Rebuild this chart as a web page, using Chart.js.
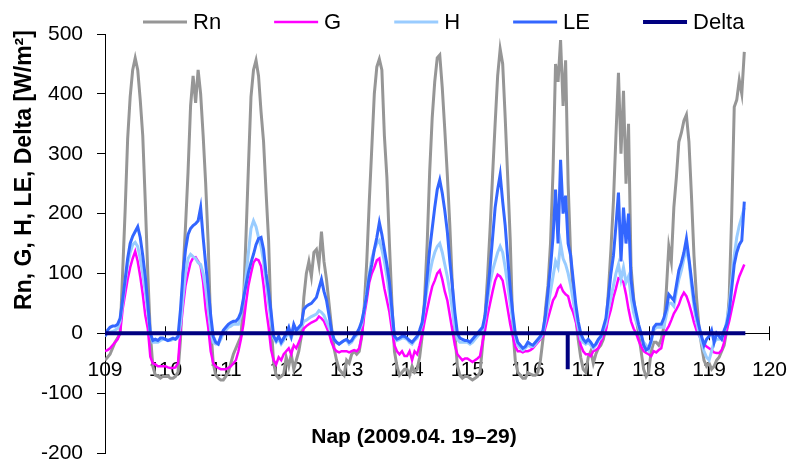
<!DOCTYPE html>
<html>
<head>
<meta charset="utf-8">
<script src="https://cdn.jsdelivr.net/npm/chart.js@4.4.1/dist/chart.umd.min.js"></script>
<style>
  html, body { margin: 0; padding: 0; background: #fff; }
</style>
</head>
<body>
<canvas id="flux-chart" width="803" height="462"></canvas>
<script>
// hourly values, first point at day 109.0
var startDay = 109;
var stepsPerDay = 24;

var rn = [
  -45, -40, -35, -25, -15, -8, 0, 100, 205, 325, 395, 440, 460, 440, 390, 330, 220, 100, 0, -55, -70, -72, -75, -72,
  -72, -72, -75, -75, -72, -65, -10, 100, 180, 270, 380, 430, 385, 440, 400, 330, 250, 150, 10, -50, -70, -75, -78, -78,
  -72, -65, -50, -35, -25, -15, -5, 50, 160, 280, 395, 440, 456, 430, 370, 320, 235, 155, 17, -50, -70, -75, -72, -68,
  -40, -55, -35, -60, -45, -30, -5, 60, 100, 120, 95, 135, 140, 115, 170, 120, 90, 50, 10, -25, -45, -60, -65, -70,
  -45, -50, -35, -30, -35, -30, -5, 45, 120, 220, 310, 400, 445, 458, 440, 330, 260, 150, 50, -30, -55, -70, -65, -60,
  -60, -70, -55, -65, -60, -40, -5, 60, 150, 270, 360, 420, 460, 465, 410, 340, 265, 180, 80, 0, -55, -70, -75, -72,
  -72, -75, -78, -75, -72, -65, -20, 30, 95, 175, 265, 350, 430, 475, 450, 360, 260, 156, 10, -45, -65, -70, -75, -75,
  -66, -68, -70, -70, -65, -45, -10, 40, 80, 150, 270, 450, 420, 490, 380, 456, 250, 130, 67, 30, -10, -40, -60, -65,
  -40, -30, -50, -35, -25, -20, -10, 10, 70, 140, 220, 330, 435, 300, 405, 250, 350, 110, 60, 25, 0, -30, -60, -72,
  -65, -30, -15, -15, -20, -10, 10, 70, 145, 120, 210, 260, 320, 335, 355, 365, 320, 230, 130, 60, 10, -20, -45, -55,
  -50, -60, -55, -45, -40, -30, -20, 5, 60, 200, 378, 390, 423, 400, 470
];

var g = [
  -30, -28, -25, -20, -15, -10, 0, 40, 65, 90, 110, 125, 137, 120, 95, 65, 30, 8, -39, -50, -52, -55, -55, -55,
  -55, -57, -58, -58, -57, -50, 5, 45, 80, 100, 118, 126, 127, 120, 112, 85, 40, 10, -30, -50, -55, -58, -60, -60,
  -60, -58, -55, -50, -45, -30, -10, 15, 50, 80, 100, 118, 124, 122, 112, 80, 40, 10, -28, -45, -52, -40, -45, -35,
  -30, -25, -35, -20, -25, -15, -5, 8, 12, 15, 18, 20, 22, 28, 25, 20, 10, 0, -15, -25, -30, -32, -30, -30,
  -30, -32, -30, -28, -30, -25, -5, 30, 55, 85, 100, 110, 122, 125, 100, 75, 55, 35, 5, -20, -30, -35, -30, -38,
  -38, -30, -45, -30, -35, -20, -2, 20, 40, 60, 78, 88, 100, 105, 90, 70, 55, 30, 5, -20, -35, -40, -45, -42,
  -42, -45, -48, -45, -42, -38, -15, 5, 30, 50, 70, 88, 98, 95, 88, 65, 40, 15, -5, -22, -30, -30, -32, -30,
  -30, -28, -25, -20, -15, -10, -5, 10, 25, 40, 55, 62, 75, 80, 70, 65, 62, 45, 35, 20, 0, -20, -30, -35,
  -35, -38, -30, -28, -25, -15, -5, 5, 25, 40, 60, 75, 92, 90, 85, 65, 40, 20, 8, 0, -12, -22, -30, -33,
  -35, -38, -30, -32, -28, -25, -5, 5, 12, 22, 33, 40, 48, 60, 68, 62, 50, 35, 18, 5, -3, -12, -18, -22,
  -25, -28, -32, -33, -33, -28, -15, 5, 20, 40, 60, 80, 95, 105, 115
];

var h = [
  -5, 0, 2, 3, 5, 8, 20, 50, 85, 115, 135, 148, 152, 145, 125, 100, 70, 35, 0, -15, -15, -15, -12, -10,
  -10, -12, -12, -10, -10, -8, 15, 60, 100, 125, 132, 128, 125, 118, 115, 100, 75, 40, 5, -15, -18, -18, -10, 0,
  5, 10, 12, 15, 15, 15, 30, 55, 95, 135, 175, 188, 178, 160, 145, 120, 85, 50, 20, -8, -15, -10, -18, -12,
  -5, 0, -8, 5, 0, 5, 10, 20, 22, 25, 28, 30, 32, 38, 35, 30, 20, 10, 0, -10, -15, -18, -15, -12,
  -12, -18, -15, -8, -3, 5, 15, 40, 70, 100, 125, 140, 150, 155, 140, 120, 95, 65, 25, -5, -12, -10, -8, -8,
  -10, -15, -18, -12, -8, 2, 15, 45, 75, 100, 120, 135, 145, 150, 135, 115, 95, 70, 40, 10, -10, -15, -15, -15,
  -15, -18, -15, -10, -5, 0, 5, 25, 55, 85, 105, 120, 135, 145, 135, 110, 80, 50, 20, -5, -20, -25, -28, -25,
  -20, -22, -22, -18, -12, -8, 0, 20, 45, 70, 95, 120, 110, 150, 125, 115, 100, 80, 55, 30, 10, -10, -15, -18,
  -15, -20, -25, -20, -12, -8, 5, 15, 40, 60, 80, 100, 115, 90, 110, 85, 95, 60, 35, 20, 10, -5, -15, -20,
  -28, -15, 5, 10, 10, 10, 10, 30, 50, 50, 45, 70, 90, 105, 125, 140, 120, 80, 45, 20, 0, -15, -30, -40,
  -45, -30, -15, -10, -10, -5, 0, 20, 45, 90, 130, 160, 180, 195, 210
];

var le = [
  -5, 5, 10, 12, 12, 15, 25, 56, 90, 125, 150, 162, 170, 178, 160, 130, 95, 50, 0, -12, -10, -12, -8, -8,
  -10, -12, -10, -8, -10, -5, 40, 100, 140, 165, 175, 180, 183, 188, 210, 160, 115, 75, 30, -5, -15, -18, -5, 5,
  10, 15, 18, 20, 20, 25, 35, 58, 80, 102, 118, 132, 148, 158, 160, 140, 100, 70, 35, -5, -12, -5, -15, -8,
  0, 10, -5, 15, 5, 10, 15, 40, 45, 48, 50, 55, 60, 75, 90, 70, 55, 30, 5, -10, -15, -18, -15, -12,
  -10, -15, -12, -5, 0, 8, 20, 40, 65, 95, 115, 140, 160, 185, 165, 140, 115, 85, 40, -5, -10, -8, -5, -5,
  -8, -12, -15, -10, -5, 5, 18, 50, 95, 140, 175, 210, 240, 256, 234, 205, 170, 120, 80, 35, 0, -8, -10, -12,
  -12, -15, -10, -5, 0, 5, 10, 30, 68, 110, 160, 210, 240, 265, 220, 180, 125, 75, 35, 0, -15, -20, -25, -22,
  -15, -18, -20, -15, -10, -5, 5, 30, 70, 110, 160, 240, 150, 290, 200, 230, 150, 130, 90, 50, 20, 0, -10, -15,
  -10, -15, -22, -18, -10, -5, 10, 25, 60, 100, 130, 180, 235, 120, 210, 150, 200, 90, 55, 35, 15, 0, -20, -28,
  -25, -12, 10, 15, 15, 15, 25, 40, 65, 60, 55, 80, 105, 118, 135, 158, 125, 90, 55, 30, 12, -5, -20, -10,
  -5, 5, -15, 0, -5, -10, 5, 15, 35, 75, 115, 135, 148, 155, 220
];

// Delta is zero apart from one drop on day 116
var deltaDays = [109, 116.66, 116.66, 116.66, 119.6];
var deltaValues = [0, 0, -60, 0, 0];

var seriesNames = ["Rn", "G", "H", "LE", "Delta"];
var seriesColors = ["#969696", "#ff00ff", "#99ccff", "#3366ff", "#000080"];
var xTickLimits = [109, 120];
var yTickLimits = [-200, 500];
var xTitle = "Nap (2009.04. 19\u201329)";
var yTitle = "Rn, G, H, LE, Delta [W/m\u00b2]";

var fontFamily = '"Liberation Sans", Arial, sans-serif';

function hourly(values) {
  return values.map(function(v, i) {
    return { x: startDay + i / stepsPerDay, y: v };
  });
}

function paired(xs, ys) {
  return xs.map(function(x, i) {
    return { x: x, y: ys[i] };
  });
}

var widths = [3, 2.5, 3, 3, 4];
var seriesData = [hourly(rn), hourly(g), hourly(h), hourly(le), paired(deltaDays, deltaValues)];

var datasets = seriesNames.map(function(name, i) {
  return {
    label: name,
    data: seriesData[i],
    borderColor: seriesColors[i],
    backgroundColor: seriesColors[i],
    borderWidth: widths[i],
    pointRadius: 0,
    tension: 0,
    fill: false,
    order: seriesNames.length - i
  };
});

// legend, crossing ticks and axis titles
var extras = {
  id: "extras",
  beforeDatasetsDraw: function(chart) {
    var ctx = chart.ctx;
    var xs = chart.scales.x;
    var y0 = chart.scales.y.getPixelForValue(0);
    ctx.save();
    ctx.strokeStyle = "#000";
    ctx.lineWidth = 1;
    xs.ticks.forEach(function(t) {
      var px = Math.round(xs.getPixelForValue(t.value)) + 0.5;
      ctx.beginPath();
      ctx.moveTo(px, y0 - 7);
      ctx.lineTo(px, y0 + 7);
      ctx.stroke();
    });
    ctx.restore();
  },
  afterDraw: function(chart) {
    var ctx = chart.ctx;
    ctx.save();

    // legend
    ctx.font = "22px " + fontFamily;
    ctx.textBaseline = "middle";
    ctx.textAlign = "left";
    var lx = 143, ly = 22;
    chart.data.datasets.forEach(function(ds) {
      ctx.strokeStyle = ds.borderColor;
      ctx.lineWidth = ds.borderWidth;
      ctx.beginPath();
      ctx.moveTo(lx, ly);
      ctx.lineTo(lx + 44, ly);
      ctx.stroke();
      ctx.fillStyle = "#000";
      ctx.fillText(ds.label, lx + 50, ly + 1);
      lx += 44 + 6 + ctx.measureText(ds.label).width + 53;
    });

    // axis titles
    ctx.font = "bold 21px " + fontFamily;
    ctx.textAlign = "center";
    ctx.fillText(xTitle, 414, 437);

    ctx.translate(25, 170);
    ctx.rotate(-Math.PI / 2);
    ctx.font = "bold 23px " + fontFamily;
    ctx.fillText(yTitle, 0, 0);
    ctx.restore();
  }
};

Chart.defaults.font.family = fontFamily;
Chart.defaults.color = "#000";

new Chart("flux-chart", {
  type: "line",
  data: { datasets: datasets },
  options: {
    responsive: false,
    animation: false,
    devicePixelRatio: 1,
    layout: { padding: { top: 34, right: 20, bottom: 9, left: 0 } },
    plugins: {
      legend: { display: false },
      tooltip: { enabled: false }
    },
    scales: {
      x: {
        type: "linear",
        min: xTickLimits[0],
        max: xTickLimits[1],
        position: { y: 0 },
        grid: { display: false },
        border: { display: true, color: "#000", width: 1 },
        ticks: { stepSize: 1, padding: 16, maxRotation: 0, autoSkip: false, font: { size: 21 }, color: "#000" }
      },
      y: {
        type: "linear",
        min: yTickLimits[0],
        max: yTickLimits[1],
        grid: { drawOnChartArea: false, tickLength: 8, color: "#000" },
        border: { display: true, color: "#000", width: 1 },
        ticks: { stepSize: 100, padding: 14, font: { size: 21 }, color: "#000" },
        afterFit: function(scale) {
          scale.width = 105;
          scale.paddingTop = 0;
          scale.paddingBottom = 0;
        }
      }
    }
  },
  plugins: [extras]
});
</script>
</body>
</html>
